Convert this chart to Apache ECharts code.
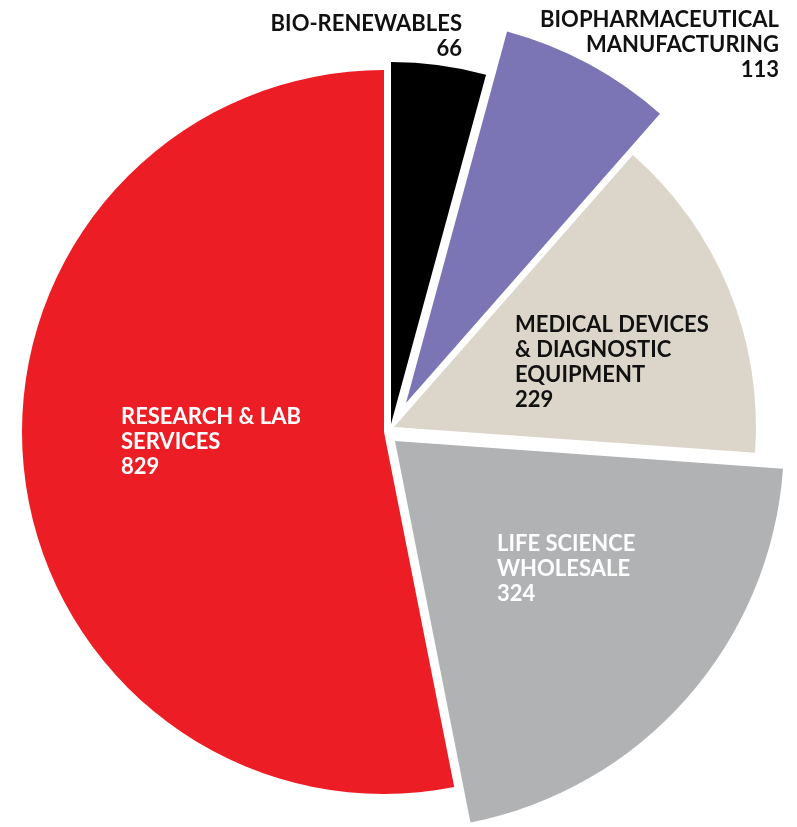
<!DOCTYPE html>
<html>
<head>
<meta charset="utf-8">
<script src="https://cdn.jsdelivr.net/npm/echarts@6/dist/echarts.min.js"></script>
<style>
html,body{margin:0;padding:0;background:#fff;}
#chart{width:797px;height:827px;}
</style>
</head>
<body>
<div id="chart"></div>
<script>
// ---- data ----
const categories = [
  'BIO-RENEWABLES',
  'BIOPHARMACEUTICAL\nMANUFACTURING',
  'MEDICAL DEVICES\n& DIAGNOSTIC\nEQUIPMENT',
  'LIFE SCIENCE\nWHOLESALE',
  'RESEARCH & LAB\nSERVICES'
];
const values = [66, 113, 229, 324, 829];

// ---- styles / layout ----
const colors = ['#000000', '#7b75b5', '#dcd6ca', '#b1b2b4', '#ed1d25'];
const textColors = ['#111111', '#111111', '#111111', '#ffffff', '#ffffff'];
const sliceLayout = [
  { center: [391, 424], r: 362, label: { x: 462, y: 11,  align: 'right' } },
  { center: [406, 403], r: 385, label: { x: 779, y: 7,   align: 'right' } },
  { center: [394, 427], r: 362, label: { x: 515, y: 312, align: 'left' } },
  { center: [395, 441], r: 389, label: { x: 497, y: 531, align: 'left' } },
  { center: [384, 432], r: 362, label: { x: 121, y: 404, align: 'left' } }
];

const series = values.map((_, i) => ({
  type: 'pie',
  center: sliceLayout[i].center,
  radius: sliceLayout[i].r,
  startAngle: 90,
  clockwise: true,
  silent: true,
  animation: false,
  avoidLabelOverlap: false,
  z: i === 1 || i === 3 ? 3 : 2,
  label: {
    position: 'inside',
    formatter: '{b}\n{c}',
    color: textColors[i],
    fontFamily: 'Lato',
    fontWeight: 'bold',
    fontSize: 22,
    lineHeight: 25,
    align: sliceLayout[i].label.align
  },
  labelLine: { show: false },
  labelLayout: {
    x: sliceLayout[i].label.x,
    y: sliceLayout[i].label.y,
    align: sliceLayout[i].label.align,
    verticalAlign: 'top'
  },
  emphasis: { disabled: true },
  data: values.map((v, j) => ({
    name: categories[j],
    value: v,
    itemStyle: {
      color: j === i ? colors[j] : 'rgba(0,0,0,0)',
      borderWidth: 0
    },
    label: { show: j === i },
    labelLine: { show: false }
  }))
}));

const chart = echarts.init(document.getElementById('chart'), null, { renderer: 'canvas' });
chart.setOption({
  backgroundColor: '#ffffff',
  animation: false,
  series: series
});
</script>
</body>
</html>
